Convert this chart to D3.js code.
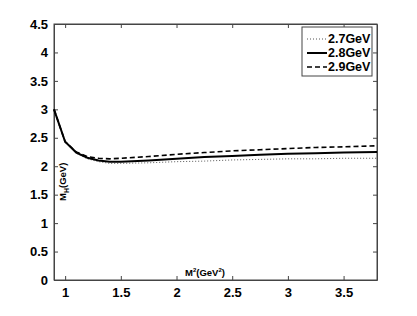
<!DOCTYPE html>
<html>
<head>
<meta charset="utf-8">
<script src="https://cdn.jsdelivr.net/npm/d3@7"></script>
<style>
  body { margin: 0; background: #fff; }
  text { font-family: "Liberation Sans", Arial, sans-serif; font-weight: bold; }
</style>
</head>
<body>
<div id="chart"></div>
<script>
// M^2 values (GeV^2)
var m2 = [0.9, 1.0, 1.1, 1.2, 1.3, 1.4, 1.5, 1.75, 2.0, 2.25, 2.5, 2.75, 3.0, 3.25, 3.5, 3.8];
// M_H for the three thresholds
var mh27 = [3.0, 2.43, 2.23, 2.13, 2.08, 2.05, 2.05, 2.06, 2.08, 2.09, 2.11, 2.12, 2.13, 2.13, 2.14, 2.14];
var mh28 = [3.0, 2.43, 2.24, 2.15, 2.10, 2.08, 2.08, 2.10, 2.13, 2.16, 2.18, 2.20, 2.22, 2.23, 2.24, 2.25];
var mh29 = [3.0, 2.43, 2.25, 2.17, 2.14, 2.13, 2.14, 2.17, 2.21, 2.24, 2.27, 2.29, 2.31, 2.33, 2.34, 2.36];
var seriesNames = ["2.7GeV", "2.8GeV", "2.9GeV"];
var xTicks = [1, 1.5, 2, 2.5, 3, 3.5];
var yTicks = [0, 0.5, 1, 1.5, 2, 2.5, 3, 3.5, 4, 4.5];

var width = 417, height = 316;
var plotL = 54, plotR = 377, plotT = 24, plotB = 280;

var svg = d3.select("#chart").append("svg")
  .attr("width", width)
  .attr("height", height);

var x = d3.scaleLinear().domain([0.9, 3.8]).range([plotL, plotR]);
var y = d3.scaleLinear().domain([0, 4.5]).range([plotB, plotT]);

var axisColor = "#444";

// box
svg.append("rect")
  .attr("x", plotL).attr("y", plotT)
  .attr("width", plotR - plotL).attr("height", plotB - plotT)
  .attr("fill", "none").attr("stroke", axisColor).attr("stroke-width", 1);

// axes with inward ticks
var xb = svg.append("g").attr("transform", "translate(0," + plotB + ")")
  .call(d3.axisBottom(x).tickValues(xTicks).tickSizeInner(-4).tickSizeOuter(0).tickPadding(8).tickFormat(d3.format("")));
var xt = svg.append("g").attr("transform", "translate(0," + plotT + ")")
  .call(d3.axisTop(x).tickValues(xTicks).tickSizeInner(-4).tickSizeOuter(0).tickFormat(""));
var yl = svg.append("g").attr("transform", "translate(" + plotL + ",0)")
  .call(d3.axisLeft(y).tickValues(yTicks).tickSizeInner(-4).tickSizeOuter(0).tickPadding(6).tickFormat(d3.format("")));
var yr = svg.append("g").attr("transform", "translate(" + plotR + ",0)")
  .call(d3.axisRight(y).tickValues(yTicks).tickSizeInner(-4).tickSizeOuter(0).tickFormat(""));

[xb, xt, yl, yr].forEach(function(g) {
  g.select(".domain").attr("stroke", axisColor);
  g.selectAll("line").attr("stroke", axisColor);
  g.selectAll("text").attr("fill", "#000").style("font-size", "13px").style("font-weight", "bold");
});

// curves
var series = [
  { name: seriesNames[0], values: mh27, dash: "1,2", width: 1, color: "#555" },
  { name: seriesNames[1], values: mh28, dash: null, width: 2, color: "#000" },
  { name: seriesNames[2], values: mh29, dash: "5,3", width: 1.6, color: "#000" }
];

var line = d3.line()
  .x(function(d, i) { return x(m2[i]); })
  .y(function(d) { return y(d); });

series.forEach(function(s) {
  svg.append("path")
    .datum(s.values)
    .attr("fill", "none")
    .attr("stroke", s.color)
    .attr("stroke-width", s.width)
    .attr("stroke-dasharray", s.dash)
    .attr("d", line);
});

// axis labels (inside the plot area, as in the original)
var xlab = svg.append("text")
  .attr("x", 185).attr("y", 276)
  .style("font-size", "9.5px");
xlab.append("tspan").text("M");
xlab.append("tspan").attr("dy", -4).style("font-size", "6px").text("2");
xlab.append("tspan").attr("dy", 4).text("(GeV");
xlab.append("tspan").attr("dy", -4).style("font-size", "6px").text("2");
xlab.append("tspan").attr("dy", 4).text(")");

var ylab = svg.append("text")
  .attr("transform", "translate(66,201) rotate(-90)")
  .style("font-size", "9.5px");
ylab.append("tspan").text("M");
ylab.append("tspan").attr("dy", 3).style("font-size", "7px").text("H");
ylab.append("tspan").attr("dy", -3).text("(GeV)");

// legend
var lg = svg.append("g");
lg.append("rect")
  .attr("x", 302).attr("y", 27).attr("width", 70).attr("height", 49)
  .attr("fill", "#fff").attr("stroke", axisColor).attr("stroke-width", 1);
series.forEach(function(s, i) {
  var yy = 39 + i * 14;
  lg.append("line")
    .attr("x1", 307).attr("x2", 327).attr("y1", yy).attr("y2", yy)
    .attr("stroke", s.color).attr("stroke-width", s.width)
    .attr("stroke-dasharray", s.dash);
  lg.append("text")
    .attr("x", 328).attr("y", yy + 4)
    .style("font-size", "12.5px")
    .text(s.name);
});
</script>
</body>
</html>
